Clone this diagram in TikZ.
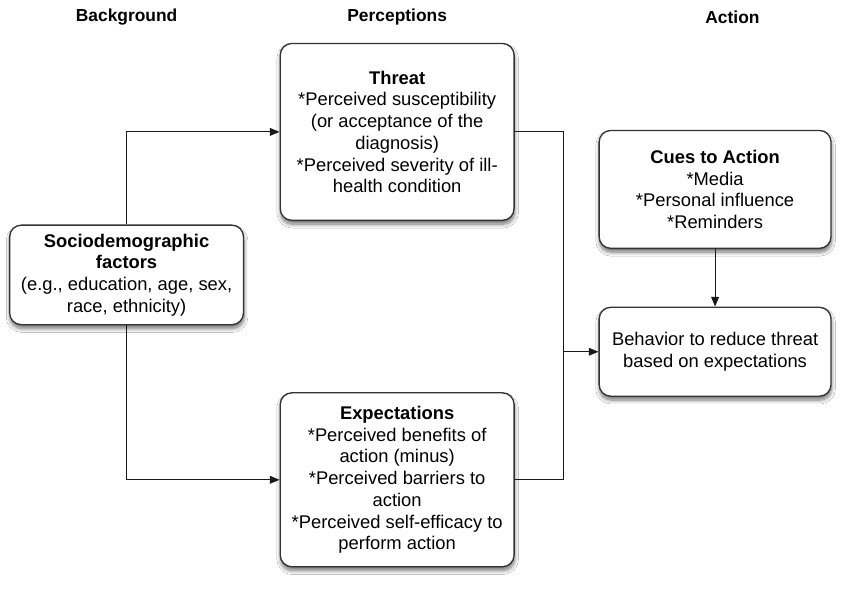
\documentclass[tikz,border=0pt]{standalone}
\usepackage{fontspec}
\setmainfont{Liberation Sans}
\usetikzlibrary{arrows.meta,shadows.blur}
\begin{document}
\begin{tikzpicture}[x=1pt,y=-1pt,
  box/.style={draw=black!80, line width=1.4pt, rounded corners=12pt, fill=white,
    align=center, inner sep=0pt, minimum width=242pt,
    font=\fontsize{19}{22.5}\selectfont,
    blur shadow={shadow xshift=0.5pt, shadow yshift=-4pt, shadow blur radius=4pt,
      shadow blur steps=8, shadow opacity=55}},
  link/.style={line width=1.1pt, draw=black!90},
  arr/.style={link, -{Triangle[length=10pt,width=8pt]}},
  head/.style={font=\bfseries\fontsize{18}{20}\selectfont}]

% canvas
\fill[white] (0,0) rectangle (891,616);
\useasboundingbox (0,0) rectangle (891,616);

% column headings
\node[head] (hbg)  at (131,18) {Background};
\node[head] (hper) at (411,18) {Perceptions};
\node[head] (hact) at (758,18) {Action};

% boxes
\node[box, minimum height=103pt] (socio) at (131,284.5)
  {\textbf{Sociodemographic}\\\textbf{factors}\\(e.g., education, age, sex,\\race, ethnicity)};
\node[box, minimum height=183pt] (threat) at (411,136.5)
  {\textbf{Threat}\\*Perceived susceptibility\\(or acceptance of the\\diagnosis)\\*Perceived severity of ill-\\health condition};
\node[box, minimum height=180pt] (expect) at (411,496.5)
  {\textbf{Expectations}\\*Perceived benefits of\\action (minus)\\*Perceived barriers to\\action\\*Perceived self-efficacy to\\perform action};
\node[box, minimum width=240pt, minimum height=122pt] (cues) at (740,196)
  {\textbf{Cues to Action}\\*Media\\*Personal influence\\*Reminders};
\node[box, minimum width=240pt, minimum height=92pt] (behav) at (740,364)
  {Behavior to reduce threat\\based on expectations};

% connectors
\coordinate (join) at (583,364);
\draw[arr] (socio.north) |- (threat.west);
\draw[arr] (socio.south) |- (expect.west);
\draw[link] (threat.east) -| (join);
\draw[link] (expect.east) -| (join);
\draw[arr] (join) -- (behav.west);
\draw[arr] (cues.south) -- (behav.north);
\end{tikzpicture}
\end{document}
